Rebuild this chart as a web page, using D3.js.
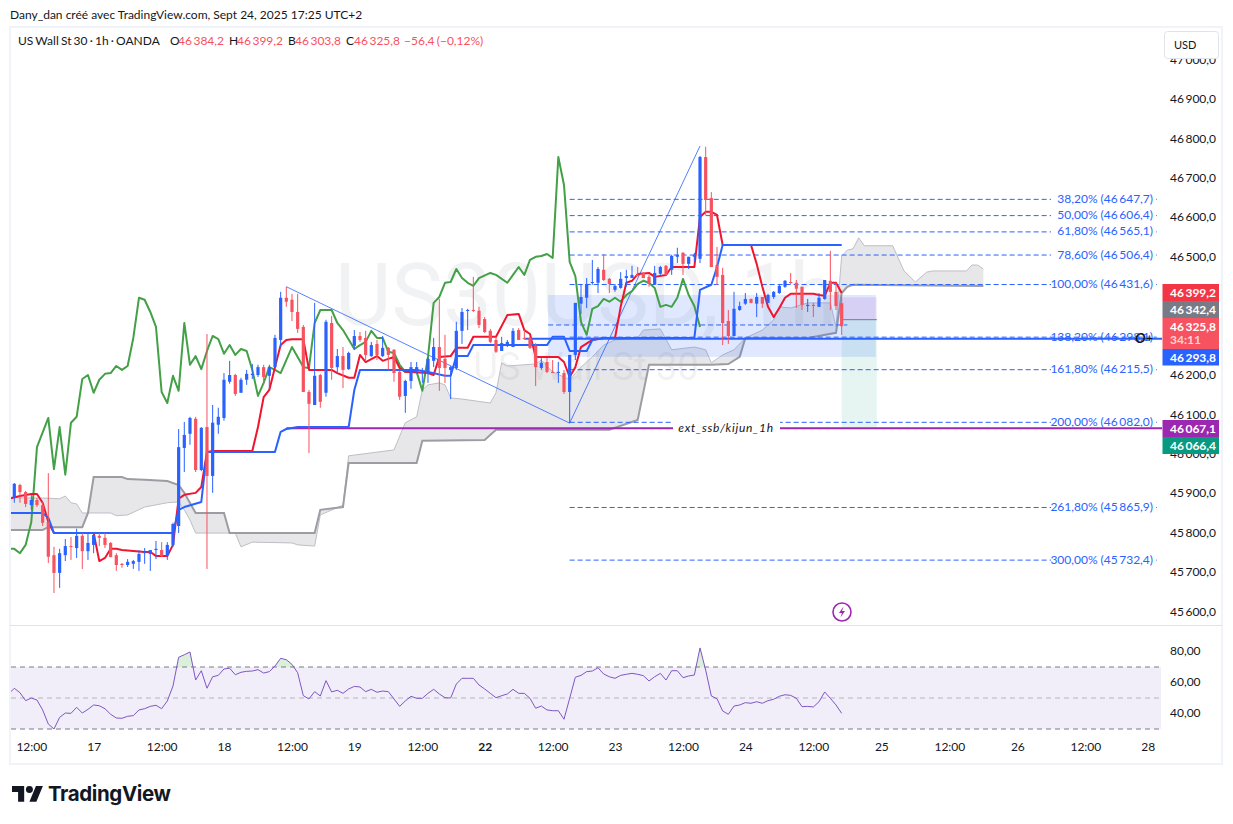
<!DOCTYPE html>
<html>
<head>
<meta charset="utf-8">
<script src="https://cdn.jsdelivr.net/npm/d3@7"></script>
<style>
  html, body { margin: 0; background: #fff; }
  svg { display: block; }
  text { font-family: Lato, sans-serif; }
</style>
</head>
<body>
<div id="app"></div>
<script>
// candles, one per hour, index 0 is the first full bar on the left
const open = [45890,45923,45905,45872,45885,45872,45829,45745,45700,45745,
  45768,45763,45794,45755,45771,45794,45789,45776,45745,45723,
  45720,45723,45728,45750,45748,45758,45758,45745,45771,45819,
  46017,46053,46091,45961,46070,45946,46076,46093,46185,46202,
  46157,46190,46202,46202,46222,46200,46222,46291,46398,46393,
  46362,46324,46159,46126,46202,46157,46334,46222,46250,46217,
  46276,46301,46296,46250,46281,46250,46271,46266,46210,46149,
  46187,46210,46207,46207,46238,46273,46243,46215,46220,46314,
  46365,46367,46365,46344,46314,46291,46263,46278,46273,46316,
  46296,46296,46276,46220,46235,46210,46207,46207,46159,46253,
  46383,46398,46436,46436,46469,46446,46418,46423,46448,46448,
  46456,46461,46451,46431,46459,46479,46469,46502,46512,46484,
  46502,46497,46755,46651,46481,46456,46339,46301,46367,46383,
  46395,46383,46400,46385,46400,46410,46426,46438,46436,46426,
  46377,46380,46375,46395,46441,46413,46384.2];
const high = [45928,45926,45908,45898,45890,45880,45953,45766,45761,45786,
  45791,45812,45801,45799,45804,45801,45801,45778,45750,45725,
  45735,45733,45758,45763,45758,45781,45778,45778,45827,46065,
  46083,46096,46096,46070,46306,46126,46119,46207,46238,46205,
  46195,46215,46230,46228,46228,46228,46304,46413,46426,46408,
  46408,46329,46164,46385,46205,46342,46352,46268,46273,46261,
  46316,46311,46314,46286,46291,46301,46273,46268,46212,46190,
  46235,46235,46220,46248,46296,46395,46304,46225,46337,46372,
  46370,46451,46375,46349,46319,46299,46299,46291,46321,46321,
  46316,46299,46283,46245,46245,46240,46235,46215,46253,46385,
  46433,46448,46494,46476,46509,46448,46433,46463,46469,46479,
  46476,46463,46456,46479,46479,46481,46507,46525,46514,46502,
  46512,46758,46781,46666,46527,46474,46367,46413,46388,46410,
  46396,46410,46400,46408,46415,46433,46443,46461,46443,46426,
  46395,46385,46410,46443,46517,46436,46399.2];
const low = [45878,45878,45867,45860,45867,45819,45725,45649,45662,45730,
  45733,45738,45710,45733,45750,45768,45763,45740,45705,45713,
  45715,45710,45705,45723,45705,45735,45740,45733,45766,45801,
  45956,46025,45956,45958,45710,45903,46053,46086,46180,46149,
  46157,46177,46192,46197,46177,46164,46222,46271,46375,46339,
  46309,46159,46004,46126,46119,46147,46190,46207,46169,46215,
  46266,46286,46240,46248,46240,46248,46215,46185,46139,46106,
  46167,46207,46182,46182,46222,46162,46182,46141,46215,46281,
  46316,46362,46321,46309,46283,46258,46263,46273,46273,46291,
  46293,46268,46174,46215,46207,46207,46182,46154,46080,46240,
  46357,46372,46431,46410,46441,46410,46413,46421,46426,46451,
  46453,46448,46426,46431,46456,46453,46456,46486,46456,46471,
  46489,46486,46608,46476,46431,46278,46281,46301,46365,46380,
  46384,46349,46372,46385,46395,46408,46423,46433,46372,46367,
  46362,46349,46375,46393,46367,46367,46303.8];
const close = [45926,45905,45875,45885,45872,45827,45741,45700,45750,45768,
  45766,45794,45755,45776,45796,45789,45771,45740,45720,45720,
  45728,45730,45748,45753,45758,45761,45743,45771,45824,46019,
  46050,46093,45961,46068,45946,46081,46096,46190,46202,46154,
  46190,46205,46205,46222,46197,46222,46296,46398,46388,46362,
  46319,46159,46129,46200,46134,46337,46220,46250,46215,46258,
  46301,46291,46253,46278,46253,46271,46253,46207,46147,46187,
  46222,46222,46210,46243,46273,46220,46220,46222,46314,46362,
  46367,46365,46329,46311,46286,46261,46283,46286,46314,46291,
  46293,46271,46222,46233,46210,46207,46210,46159,46253,46385,
  46400,46433,46438,46471,46443,46433,46428,46446,46453,46456,
  46453,46448,46433,46461,46476,46456,46504,46507,46484,46502,
  46507,46755,46646,46476,46451,46334,46301,46370,46377,46395,
  46385,46400,46383,46405,46413,46428,46441,46436,46421,46380,
  46380,46377,46398,46443,46413,46377,46325.8];

// indicator lines, [bar index, price]
const tenkan = [[-1,45888],[1,45895],[3,45900],[4,45900],[5,45878],[6,45829],[7,45801],[14,45801],[15,45730],[16,45738],[17,45761],[18,45761],[19,45758],[23,45753],[24,45753],[25,45743],[27,45743],[28,45771],[29,45888],[30,45898],[32,45903],[33,45918],[34,46007],[35,46009],[42,46009],[43,46070],[44,46146],[45,46164],[46,46222],[47,46278],[48,46291],[49,46293],[51,46293],[52,46215],[56,46215],[57,46207],[59,46195],[60,46195],[61,46253],[62,46235],[64,46250],[65,46238],[67,46248],[68,46220],[69,46210],[73,46207],[74,46202],[75,46248],[77,46250],[78,46271],[80,46271],[81,46299],[85,46299],[87,46354],[89,46357],[90,46316],[91,46306],[92,46248],[96,46248],[97,46235],[98,46197],[99,46222],[100,46273],[102,46291],[104,46296],[106,46296],[107,46375],[108,46436],[109,46441],[110,46458],[112,46461],[113,46451],[115,46456],[116,46476],[120,46476],[121,46603],[122,46616],[123,46616],[124,46608],[125,46532],[130,46532],[131,46484],[132,46426],[133,46375],[134,46349],[135,46372],[136,46398],[137,46408],[141,46408],[142,46405],[143,46403],[144,46436],[145,46436],[146,46410]];
const kijun = [[-1,45852],[5,45852],[6,45840],[7,45801],[28,45801],[29,45860],[30,45867],[33,45880],[34,46007],[46,46007],[47,46058],[48,46065],[50,46070],[59,46070],[60,46164],[61,46215],[71,46215],[73,46210],[76,46200],[77,46200],[78,46250],[80,46250],[81,46278],[94,46278],[95,46299],[97,46299],[98,46263],[101,46263],[102,46291],[104,46296],[120,46296],[121,46418],[123,46431],[124,46476],[125,46532],[146,46532]];
const chikou = [[-1,45761],[0,45761],[1,45750],[2,45771],[3,45829],[4,46019],[6,46093],[7,45963],[8,46070],[9,45949],[10,46081],[11,46096],[12,46192],[13,46202],[14,46157],[15,46190],[16,46205],[17,46207],[18,46225],[19,46215],[20,46225],[21,46296],[22,46398],[23,46393],[24,46362],[25,46324],[26,46159],[27,46131],[28,46200],[29,46162],[30,46334],[31,46228],[32,46250],[33,46217],[34,46263],[35,46301],[36,46293],[37,46256],[38,46278],[39,46253],[40,46268],[41,46263],[42,46215],[43,46149],[44,46182],[45,46222],[46,46215],[47,46207],[48,46240],[49,46273],[50,46248],[51,46222],[52,46220],[53,46334],[54,46367],[56,46367],[57,46334],[58,46316],[60,46268],[61,46278],[62,46286],[63,46314],[64,46296],[65,46296],[66,46261],[67,46258],[68,46228],[69,46210],[71,46210],[72,46162],[73,46248],[74,46385],[75,46400],[76,46436],[77,46438],[78,46471],[79,46448],[80,46436],[81,46428],[82,46448],[84,46461],[85,46456],[87,46436],[88,46456],[89,46476],[90,46456],[91,46494],[92,46502],[93,46504],[94,46509],[95,46499],[96,46755],[97,46684],[98,46489],[99,46453],[100,46337],[101,46304],[102,46370],[103,46377],[104,46395],[105,46388],[106,46398],[107,46388],[108,46405],[109,46415],[110,46433],[111,46441],[112,46436],[113,46423],[114,46375],[115,46380],[116,46375],[117,46398],[118,46446],[119,46405],[120,46377],[121,46324]];
const senkouA = [[-1,45893],[1,45890],[5,45890],[8,45888],[9,45895],[10,45878],[11,45875],[12,45852],[17,45852],[18,45845],[20,45847],[23,45867],[27,45878],[29,45880],[30,45860],[31,45834],[32,45801],[39,45801],[40,45766],[42,45778],[49,45776],[50,45771],[53,45768],[54,45847],[58,45872],[59,45997],[67,46012],[69,46081],[71,46096],[72,46164],[73,46177],[75,46182],[76,46177],[77,46144],[79,46141],[84,46131],[85,46157],[86,46233],[87,46225],[92,46230],[93,46240],[95,46210],[98,46190],[100,46222],[102,46248],[104,46278],[106,46291],[110,46296],[111,46316],[114,46319],[116,46266],[120,46273],[122,46266],[123,46233],[125,46253],[127,46266],[129,46296],[132,46316],[134,46342],[135,46375],[137,46372],[140,46385],[144,46385],[145,46324],[146,46504],[147,46519],[148,46522],[149,46550],[150,46530],[155,46530],[157,46466],[159,46438],[161,46463],[162,46466],[168,46466],[169,46481],[170,46481],[171,46471]];
const senkouB = [[-1,45809],[5,45809],[6,45816],[12,45816],[13,45852],[14,45943],[19,45943],[20,45938],[23,45936],[27,45933],[29,45923],[30,45903],[32,45852],[37,45852],[38,45801],[53,45801],[54,45860],[58,45867],[59,45979],[71,45979],[72,46035],[83,46037],[85,46063],[105,46063],[110,46088],[112,46228],[123,46228],[126,46230],[128,46248],[129,46296],[140,46296],[145,46309],[146,46410],[147,46426],[148,46431],[171,46428]];
const trendLines = [[[48,46426],[98,46080]],[[98,46080],[121,46783]]];

// rsi, one value per bar, first value is the partly hidden bar before index 0
const rsi = [52.6,56.3,53.4,48.3,50,48.7,42.3,33.2,30,37.5,40.3,40.1,44,40.3,42.7,45.5,45,43.1,39.5,37.1,
  36.9,38.2,38.6,42.3,43.1,44.6,45.3,43.1,48.1,57.7,76.3,77.9,79.7,61.6,67.6,56.3,63.7,64.6,68.7,69.2,
  65,66.6,67.2,67.4,68.3,66.1,67,70.6,75.6,74.7,71.7,66.3,51.5,49.4,54.1,51.3,61.2,53.9,55,53,
  55.8,57.5,57.1,54.1,55.6,53.7,54.5,54.1,49.4,44.6,48.1,51.1,49.8,49.8,53,55.6,52.6,50.2,50,59,
  62.7,62.7,62.7,58.4,55.8,53,50.2,51.5,52.6,55.6,53,53,49.8,43.4,44.8,42.3,41.8,41.8,36.3,49.8,
  63.4,64.6,67,67.4,69.5,65.5,63.7,62.7,64.6,65.3,65.9,65.3,64.4,61,63.7,65.9,61.6,67.6,67.6,63.1,
  64.2,64.8,82.3,68,51.3,49.5,41.6,39.5,44.8,45.5,47,46.6,47.6,46.6,48.3,49.2,51.1,52.1,51.7,49.8,
  44.4,44.6,44.2,47.6,53.9,49.8,45.5,40.1];

const fibLevels = ['38,20%','50,00%','61,80%','78,60%','100,00%','138,20%','161,80%','200,00%','261,80%','300,00%'];
const fibPrices = [46647.7,46606.4,46565.1,46506.4,46431.6,46298.1,46215.5,46082.0,45865.9,45732.4];

// 46300 and 46400 are covered by the price tags in the picture
const priceTicks = [45600,45700,45800,45900,46000,46100,46200,46500,46600,46700,46800,46900,47000];
const rsiTicks = [80, 60, 40];
const timeTicks = [3,14,26,37,49,60,72,83,95,106,118,129,141,153,165,177,189,200];
const timeLabels = ['12:00','17','12:00','18','12:00','19','12:00','22','12:00','23','12:00','24','12:00','25','12:00','26','12:00','28'];

const tagPrices = [46399.2,46342.4,46325.8,46293.8,46067.1,46066.4];
const boxPrices = [46405,46248];
const boxMid = 46329;
const positionPrices = [46399.2,46342.4,46066.4];
const kijun1hLevel = 46293.8;
const ssbLevel = 46067.1;

const W = 1233, H = 824;
const BLUE = '#2962ff', RED = '#f7525f';

const fr = d3.formatLocale({decimal: ',', thousands: '\u2009', grouping: [3], currency: ['', '']});
const fmtPrice = fr.format(',.1f');
const fmtRsi = fr.format('.2f');

const x = d3.scaleLinear().domain([0, 200]).range([14.3, 1147.7]);
const y = d3.scaleLinear().domain([45600, 46900]).range([612.3, 99.9]);
const yRsi = d3.scaleLinear().domain([30, 70]).range([729, 667]);

const svg = d3.select('#app').append('svg').attr('width', W).attr('height', H);
const defs = svg.append('defs');
defs.append('clipPath').attr('id', 'pane').append('rect')
  .attr('x', 11).attr('y', 28).attr('width', 1151).attr('height', 597);
defs.append('clipPath').attr('id', 'rsiPane').append('rect')
  .attr('x', 11).attr('y', 626).attr('width', 1150).attr('height', 124);
defs.append('clipPath').attr('id', 'over70').append('rect')
  .attr('x', 11).attr('y', 626).attr('width', 1150).attr('height', yRsi(70) - 626);

// header
svg.append('text').attr('x', 10).attr('y', 19).attr('font-size', 12).attr('fill', '#131722')
  .text('Dany_dan créé avec TradingView.com, Sept 24, 2025 17:25 UTC+2');

// frame
svg.append('rect').attr('x', 10).attr('y', 27).attr('width', 1212).attr('height', 737)
  .attr('fill', 'none').attr('stroke', '#f0f3fa').attr('stroke-width', 2);
svg.append('line').attr('x1', 10).attr('x2', 1222).attr('y1', 625.5).attr('y2', 625.5).attr('stroke', '#e0e3eb');

const legend = svg.append('text').attr('y', 45).attr('font-size', 12);
const legendParts = [
  [18, 'US Wall St 30 · 1h · OANDA', '#131722'],
  [170, 'O', '#131722'], [178, fmtPrice(open[146]), RED],
  [229, 'H', '#131722'], [237, fmtPrice(high[146]), RED],
  [288, 'B', '#131722'], [295, fmtPrice(low[146]), RED],
  [346, 'C', '#131722'], [354, fmtPrice(close[146]), RED],
  [404, '\u221256,4 (\u22120,12%)', RED]
];
legend.selectAll('tspan').data(legendParts).join('tspan')
  .attr('x', d => d[0]).attr('fill', d => d[2]).style('word-spacing', '-0.9px').text(d => d[1]);

const pane = svg.append('g').attr('clip-path', 'url(#pane)');

// watermark
pane.append('text').attr('x', 586).attr('y', 325).attr('text-anchor', 'middle')
  .style('font-family', 'Roboto').attr('font-size', 87).attr('fill', '#787b86').attr('fill-opacity', 0.1)
  .text('US30USD, 1h');
pane.append('text').attr('x', 586).attr('y', 380).attr('text-anchor', 'middle')
  .style('font-family', 'Roboto').attr('font-size', 38).attr('fill', '#787b86').attr('fill-opacity', 0.1)
  .text('US Wall St 30');

const line = d3.line().x(d => x(d[0])).y(d => y(d[1]));

// cloud
pane.append('path')
  .attr('d', line(senkouA) + 'L' + line(senkouB.slice().reverse()).slice(1) + 'Z')
  .attr('fill', '#787b86').attr('fill-opacity', 0.18);
pane.append('path').attr('d', line(senkouA)).attr('fill', 'none').attr('stroke', '#bdbfc6').attr('stroke-width', 1);
pane.append('path').attr('d', line(senkouB)).attr('fill', 'none').attr('stroke', '#9b9da3').attr('stroke-width', 2);

// order box and position box
pane.append('rect').attr('x', x(94.2)).attr('width', x(152) - x(94.2))
  .attr('y', y(boxPrices[0])).attr('height', y(boxPrices[1]) - y(boxPrices[0]))
  .attr('fill', BLUE).attr('fill-opacity', 0.15);
pane.append('rect').attr('x', x(146)).attr('width', x(152.2) - x(146))
  .attr('y', y(positionPrices[0])).attr('height', y(positionPrices[1]) - y(positionPrices[0]))
  .attr('fill', '#9c27b0').attr('fill-opacity', 0.12);
pane.append('rect').attr('x', x(146)).attr('width', x(152.2) - x(146))
  .attr('y', y(positionPrices[1])).attr('height', y(positionPrices[2]) - y(positionPrices[1]))
  .attr('fill', '#089981').attr('fill-opacity', 0.1);
pane.append('line').attr('x1', x(146)).attr('x2', x(152.2))
  .attr('y1', y(positionPrices[1])).attr('y2', y(positionPrices[1])).attr('stroke', '#787b86');
pane.append('line').attr('x1', x(94.2)).attr('x2', x(147))
  .attr('y1', y(boxMid)).attr('y2', y(boxMid))
  .attr('stroke', BLUE).attr('stroke-dasharray', '5 3');

// fib levels
const fibEnd = 201.6;
const fib = pane.append('g');
fib.selectAll('line').data(fibPrices).join('line')
  .attr('x1', x(98)).attr('x2', x(fibEnd))
  .attr('y1', d => y(d)).attr('y2', d => y(d))
  .attr('stroke', BLUE).attr('stroke-dasharray', '5 3');
fib.selectAll('rect').data(fibPrices.filter((d, k) => k != 5)).join('rect')
  .attr('x', 1051).attr('width', 105).attr('y', d => y(d) - 8).attr('height', 16).attr('fill', '#fff');
fib.selectAll('text').data(fibPrices).join('text')
  .attr('x', 1153).attr('y', d => y(d) + 3.5).attr('text-anchor', 'end')
  .attr('font-size', 12).attr('fill', BLUE)
  .text((d, k) => fibLevels[k] + ' (' + fmtPrice(d) + ')');

// trend lines of the fib drawing
pane.selectAll('path.trend').data(trendLines).join('path').classed('trend', true)
  .attr('d', line).attr('fill', 'none').attr('stroke', BLUE).attr('stroke-opacity', 0.8).attr('stroke-width', 1);

// levels
pane.append('line').attr('x1', x(48)).attr('x2', 1163).attr('y1', y(ssbLevel)).attr('y2', y(ssbLevel))
  .attr('stroke', '#9c27b0').attr('stroke-width', 2);
pane.append('line').attr('x1', x(90)).attr('x2', 1163).attr('y1', y(kijun1hLevel)).attr('y2', y(kijun1hLevel))
  .attr('stroke', BLUE).attr('stroke-width', 2);
pane.append('rect').attr('x', 673).attr('width', 107).attr('y', y(ssbLevel) - 7).attr('height', 14).attr('fill', '#fff');
pane.append('text').attr('x', 726).attr('y', y(ssbLevel) + 3.5).attr('text-anchor', 'middle')
  .attr('font-size', 12).attr('font-style', 'italic').attr('letter-spacing', 0.7).attr('fill', '#131722')
  .text('ext_ssb/kijun_1h');

const drawLine = (data, color) => pane.append('path').attr('d', line(data))
  .attr('fill', 'none').attr('stroke', color).attr('stroke-width', 2)
  .attr('stroke-linejoin', 'round');
drawLine(chikou, '#43a047');
drawLine(tenkan, '#f0152f');
drawLine(kijun, BLUE);

// candles
const bars = pane.append('g').selectAll('g').data(d3.range(open.length)).join('g')
  .attr('fill', i => close[i] >= open[i] ? BLUE : RED)
  .attr('stroke', i => close[i] >= open[i] ? BLUE : RED);
bars.append('line')
  .attr('x1', i => x(i)).attr('x2', i => x(i))
  .attr('y1', i => y(high[i])).attr('y2', i => y(low[i]));
bars.append('rect')
  .attr('x', i => x(i) - 1.6).attr('width', 3.2).attr('stroke', 'none')
  .attr('y', i => y(Math.max(open[i], close[i])))
  .attr('height', i => Math.max(1, Math.abs(y(open[i]) - y(close[i]))));

// small marks on the pane
pane.append('text').attr('x', 1135).attr('y', 343).attr('font-size', 14).attr('font-weight', 700)
  .attr('font-style', 'italic').attr('fill', '#131722').text('O');
pane.append('text').attr('x', 1146).attr('y', 342).attr('font-size', 12).attr('fill', '#131722').text('+');
const flash = pane.append('g').attr('transform', 'translate(842,612)');
flash.append('circle').attr('r', 9).attr('fill', '#fff').attr('stroke', '#9c27b0').attr('stroke-width', 1.6);
flash.append('path').attr('d', 'M1.5-5.5L-3 1H0L-1.5 5.5L3-1H0Z').attr('fill', '#9c27b0');

// price axis
const priceAxis = svg.append('g').attr('transform', 'translate(1170,-1)')
  .call(d3.axisRight(y).tickValues(priceTicks).tickSize(0).tickPadding(0).tickFormat(fmtPrice));
priceAxis.select('.domain').remove();
priceAxis.selectAll('text').attr('font-size', 12).attr('fill', '#131722').style('font-family', 'Lato');

// price tags
const tagColors = ['#f23645','#787b86','#f7525f',BLUE,'#9c27b0','#089981'];
const tagTop = [284,301,318,349,420,437];
const tagHeight = [17,17,31,16.5,17,17];
const tags = svg.append('g').selectAll('g').data(tagPrices).join('g');
tags.append('rect').attr('x', 1162.5).attr('width', 56.5)
  .attr('y', (d, k) => tagTop[k]).attr('height', (d, k) => tagHeight[k])
  .attr('fill', (d, k) => tagColors[k]);
tags.append('text').attr('x', 1170).attr('y', (d, k) => tagTop[k] + 12.5)
  .attr('font-size', 12).attr('font-weight', 700).attr('fill', '#fff').text(fmtPrice);
svg.append('text').attr('x', 1170).attr('y', 344).attr('font-size', 12).attr('font-weight', 700)
  .attr('fill', '#ffd2d6').text('34:11');

// currency button
svg.append('rect').attr('x', 1164.5).attr('y', 31.5).attr('width', 54).attr('height', 27).attr('rx', 3)
  .attr('fill', '#fff').attr('stroke', '#e0e3eb');
svg.append('text').attr('x', 1174).attr('y', 49).attr('font-size', 11).attr('fill', '#131722').text('USD');

// rsi pane
const rsiPane = svg.append('g').attr('clip-path', 'url(#rsiPane)');
rsiPane.append('rect').attr('x', 11).attr('width', 1150).attr('y', yRsi(70)).attr('height', yRsi(30) - yRsi(70))
  .attr('fill', '#7e57c2').attr('fill-opacity', 0.1);
rsiPane.selectAll('line').data([70, 50, 30]).join('line')
  .attr('x1', 11).attr('x2', 1161)
  .attr('y1', d => yRsi(d)).attr('y2', d => yRsi(d))
  .attr('stroke', '#787b86').attr('stroke-opacity', d => d == 50 ? 0.5 : 1).attr('stroke-dasharray', '5 4');
rsiPane.append('path').attr('clip-path', 'url(#over70)')
  .attr('d', d3.area().x((d, k) => x(k - 1)).y0(yRsi(70)).y1(d => yRsi(d))(rsi))
  .attr('fill', '#4caf50').attr('fill-opacity', 0.2);
rsiPane.append('path').attr('d', d3.line().x((d, k) => x(k - 1)).y(d => yRsi(d))(rsi))
  .attr('fill', 'none').attr('stroke', '#7e57c2').attr('stroke-width', 1);

const rsiAxis = svg.append('g').attr('transform', 'translate(1170,-1)')
  .call(d3.axisRight(yRsi).tickValues(rsiTicks).tickSize(0).tickPadding(0).tickFormat(fmtRsi));
rsiAxis.select('.domain').remove();
rsiAxis.selectAll('text').attr('font-size', 12).attr('fill', '#131722').style('font-family', 'Lato');

// time axis
const timeAxis = svg.append('g').attr('transform', 'translate(0,742)')
  .call(d3.axisBottom(x).tickValues(timeTicks).tickSize(0).tickPadding(0).tickFormat((d, k) => timeLabels[k]));
timeAxis.select('.domain').remove();
timeAxis.selectAll('text').attr('font-size', 12).attr('fill', '#131722').style('font-family', 'Lato')
  .attr('font-weight', d => d == 83 ? 700 : 400);

// logo
const logo = svg.append('g').attr('transform', 'translate(12,786) scale(.87)').attr('fill', '#131722');
logo.append('path').attr('d', 'M14 18H7V7H0V0h14v18zM28 18h-8L27.5 0h8L28 18z');
logo.append('circle').attr('cx', 20).attr('cy', 4).attr('r', 4);
svg.append('text').attr('x', 48).attr('y', 801).style('font-family', 'Inter').attr('font-weight', 700)
  .attr('font-size', 20.5).attr('letter-spacing', -0.4).attr('fill', '#131722').text('TradingView');
</script>
</body>
</html>
